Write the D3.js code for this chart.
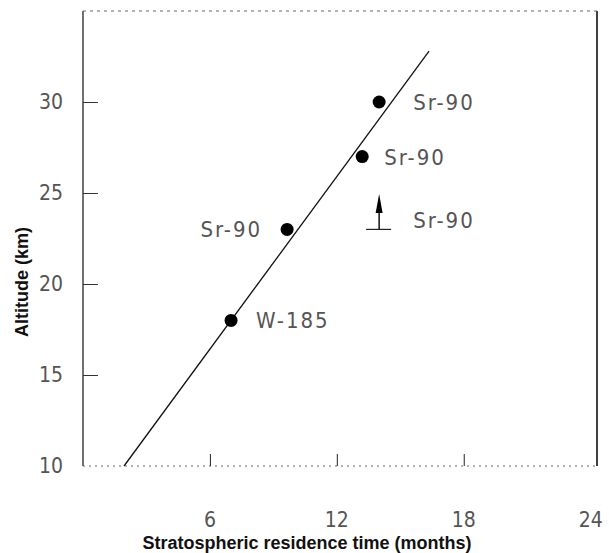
<!DOCTYPE html>
<html>
<head>
<meta charset="utf-8">
<script src="https://cdn.jsdelivr.net/npm/d3@7"></script>
<style>
  body { margin: 0; background: #fff; }
  .plot-font { font-family: "Liberation Sans Narrow", "DejaVu Sans Condensed", "Liberation Sans", sans-serif; fill: #555; }
  .title-font { font-family: "Liberation Sans", Arial, sans-serif; font-weight: bold; fill: #111; }
</style>
</head>
<body>
<div id="chart"></div>
<script>
// data
var residenceMonths = [7.0, 9.65, 13.2, 14.0];
var altitudeKm      = [18, 23, 27, 30];
var isotopeLabels   = ["W-185", "Sr-90", "Sr-90", "Sr-90"];
var labelSide       = ["right", "left", "right", "right"];

// lower-bound (arrow) measurement
var boundMonths = [14.0];
var boundKm     = [23];
var boundLabels = ["Sr-90"];

// fitted line end points
var fitMonths = [1.94, 16.36];
var fitKm     = [10, 32.8];

var xTicks = [6, 12, 18, 24];
var yTicks = [10, 15, 20, 25, 30];

var W = 609, H = 553;
var margin = {top: 11, left: 83, right: 12, bottom: 87};

var svg = d3.select("#chart").append("svg")
  .attr("width", W).attr("height", H);

var x = d3.scaleLinear().domain([0, 24.3]).range([margin.left, W - margin.right]);
var y = d3.scaleLinear().domain([10, 35]).range([H - margin.bottom, margin.top]);

// frame
svg.append("line").attr("x1", x(0)).attr("x2", x(0)).attr("y1", y(10)).attr("y2", y(35))
  .attr("stroke", "#111").attr("stroke-width", 1.2);
svg.append("line").attr("x1", x(24.3)).attr("x2", x(24.3)).attr("y1", y(10)).attr("y2", y(35))
  .attr("stroke", "#111").attr("stroke-width", 1.6);
svg.append("line").attr("x1", x(0)).attr("x2", x(24.3)).attr("y1", y(35)).attr("y2", y(35))
  .attr("stroke", "#666").attr("stroke-width", 1).attr("stroke-dasharray", "3,4");
svg.append("line").attr("x1", x(0)).attr("x2", x(24.3)).attr("y1", y(10)).attr("y2", y(10))
  .attr("stroke", "#666").attr("stroke-width", 1).attr("stroke-dasharray", "2,4");

// axes with inward ticks
var xAxis = d3.axisTop(x).tickValues(xTicks.slice(0, 3)).tickSize(12).tickFormat("");
svg.append("g").attr("transform", "translate(0," + y(10) + ")").call(xAxis)
  .call(function (g) { g.select(".domain").remove(); })
  .selectAll("line").attr("stroke", "#222");

var yAxis = d3.axisRight(y).tickValues(yTicks.slice(1)).tickSize(15).tickFormat("");
svg.append("g").attr("transform", "translate(" + x(0) + ",0)").call(yAxis)
  .call(function (g) { g.select(".domain").remove(); })
  .selectAll("line").attr("stroke", "#333");

// tick labels
svg.selectAll(".xlab").data(xTicks).enter().append("text")
  .attr("class", "plot-font")
  .attr("x", function (d) { return x(d); })
  .attr("y", y(10) + 61)
  .attr("text-anchor", "middle")
  .attr("font-size", 21)
  .text(function (d) { return d; });

svg.selectAll(".ylab").data(yTicks).enter().append("text")
  .attr("class", "plot-font")
  .attr("x", x(0) - 20)
  .attr("y", function (d) { return y(d) + 7; })
  .attr("text-anchor", "end")
  .attr("font-size", 21)
  .text(function (d) { return d; });

// fit line
var line = d3.line()
  .x(function (d, i) { return x(fitMonths[i]); })
  .y(function (d) { return y(d); });
svg.append("path").datum(fitKm).attr("d", line)
  .attr("fill", "none").attr("stroke", "#111").attr("stroke-width", 1.3);

// points
svg.selectAll(".pt").data(altitudeKm).enter().append("circle")
  .attr("cx", function (d, i) { return x(residenceMonths[i]); })
  .attr("cy", function (d) { return y(d); })
  .attr("r", 6.5)
  .attr("fill", "#000");

svg.selectAll(".ptlab").data(altitudeKm).enter().append("text")
  .attr("class", "plot-font")
  .attr("x", function (d, i) {
    return labelSide[i] === "left" ? x(residenceMonths[i]) - 25 : x(residenceMonths[i]) + (i === 0 ? 25 : (i === 3 ? 34 : 22));
  })
  .attr("y", function (d) { return y(d) + 8; })
  .attr("text-anchor", function (d, i) { return labelSide[i] === "left" ? "end" : "start"; })
  .attr("font-size", 22)
  .attr("letter-spacing", 2)
  .text(function (d, i) { return isotopeLabels[i]; });

// lower bound marker: base bar, stem and arrow head
var bound = svg.selectAll(".bound").data(boundKm).enter().append("g");
bound.append("line")
  .attr("x1", function (d, i) { return x(boundMonths[i]) - 13; })
  .attr("x2", function (d, i) { return x(boundMonths[i]) + 12; })
  .attr("y1", function (d) { return y(d); })
  .attr("y2", function (d) { return y(d); })
  .attr("stroke", "#222").attr("stroke-width", 1.2);
bound.append("line")
  .attr("x1", function (d, i) { return x(boundMonths[i]); })
  .attr("x2", function (d, i) { return x(boundMonths[i]); })
  .attr("y1", function (d) { return y(d); })
  .attr("y2", function (d) { return y(d + 1.2); })
  .attr("stroke", "#111").attr("stroke-width", 1.5);
bound.append("path")
  .attr("d", function (d, i) {
    var cx = x(boundMonths[i]);
    return "M" + (cx - 3.5) + "," + y(d + 0.9) + "L" + cx + "," + y(d + 1.95) + "L" + (cx + 3.5) + "," + y(d + 0.9) + "Z";
  })
  .attr("fill", "#000");
bound.append("text")
  .attr("class", "plot-font")
  .attr("x", function (d, i) { return x(boundMonths[i]) + 34; })
  .attr("y", function (d) { return y(d + 0.5) + 8; })
  .attr("font-size", 22)
  .attr("letter-spacing", 2)
  .text(function (d, i) { return boundLabels[i]; });

// axis titles
svg.append("text").attr("class", "title-font")
  .attr("x", 307).attr("y", 549)
  .attr("text-anchor", "middle").attr("font-size", 18)
  .text("Stratospheric residence time (months)");

svg.append("text").attr("class", "title-font")
  .attr("transform", "translate(28," + 282 + ") rotate(-90)")
  .attr("text-anchor", "middle").attr("font-size", 18)
  .text("Altitude (km)");
</script>
</body>
</html>
